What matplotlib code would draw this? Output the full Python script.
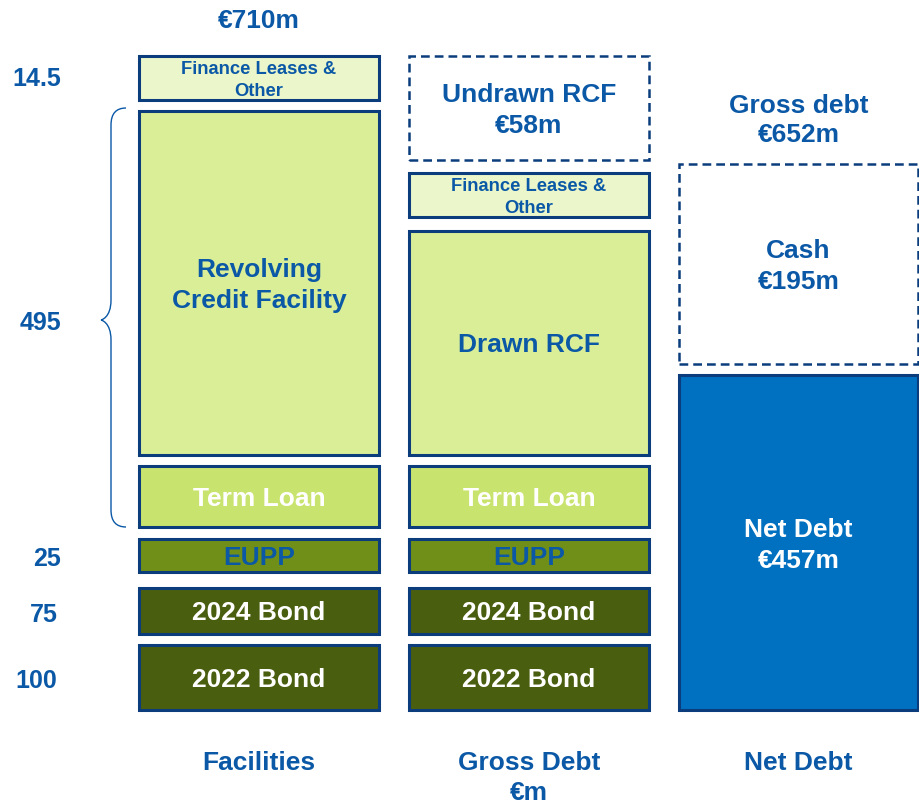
import matplotlib.pyplot as plt
from matplotlib.patches import PathPatch
from matplotlib.path import Path

plt.rcParams['font.family'] = ['Liberation Sans', 'DejaVu Sans']

# data
columns = ['Facilities', 'Gross Debt', 'Net Debt']
facility_labels = ['2022 Bond', '2024 Bond', 'EUPP', 'Term Loan',
                   'Revolving\nCredit Facility', 'Finance Leases &\nOther']
gross_labels = ['2022 Bond', '2024 Bond', 'EUPP', 'Term Loan',
                'Drawn RCF', 'Finance Leases &\nOther', 'Undrawn RCF\n€58m']
net_labels = ['Net Debt\n€457m', 'Cash\n€195m']
side_values = ['100', '75', '25', '495', '14.5']
facilities_total = '€710m'
gross_total = 'Gross debt\n€652m'
unit = '€m'

# layout (pixel rows, measured from top of picture)
H = 808
DY = 2.5  # text nudge down
fac_tops = [645, 588, 539, 466, 111, 56]
fac_bots = [710, 634, 572, 527, 455, 100]
gross_tops = [645, 588, 539, 466, 231, 173, 56]
gross_bots = [710, 634, 572, 527, 455, 217, 160]
net_tops = [375, 164]
net_bots = [710, 364]
col_x = [259, 529, 798.5]
col_w = [240, 240, 239]
side_y = [679, 612, 557, 320, 77]
side_right = [57, 58, 61, 61, 61]

blue = '#0A58A6'
edge = '#0B3D7C'
fill = {'2022 Bond': '#4A5E10', '2024 Bond': '#4A5E10', 'EUPP': '#6F8F19',
        'Term Loan': '#C9E46E', 'rcf': '#DAEE98', 'fl': '#EBF6CB'}
big = 19
ls_big = 1.32
ls_small = 1.38

fig = plt.figure(figsize=(9.19, 8.08), dpi=100)
ax = fig.add_axes([0, 0, 1, 1])
ax.set_xlim(0, 919)
ax.set_ylim(0, H)
ax.axis('off')


def style(label):
    if label in ('2022 Bond', '2024 Bond'):
        return fill[label], 'white', big
    if label == 'EUPP':
        return fill[label], blue, big
    if label == 'Term Loan':
        return fill[label], 'white', big
    if label.startswith('Finance'):
        return fill['fl'], blue, 13.2
    if label.startswith('Undrawn'):
        return 'white', blue, big
    return fill['rcf'], blue, big


def draw_col(i, labels, tops, bots):
    for lab, t, b in zip(labels, tops, bots):
        fc, tc, fs = style(lab)
        dashed = lab.startswith('Undrawn')
        ax.bar(col_x[i], b - t, bottom=H - b, width=col_w[i], color=fc,
               edgecolor=edge, linewidth=1.8 if dashed else 2.2,
               linestyle=(0, (3.5, 2)) if dashed else '-')
        ax.text(col_x[i], H - (t + b) / 2 - DY, lab, ha='center',
                va='center', color=tc, fontsize=fs, fontweight='bold',
                linespacing=ls_small if fs < big else ls_big)


draw_col(0, facility_labels, fac_tops, fac_bots)
draw_col(1, gross_labels, gross_tops, gross_bots)

# net debt column
ax.bar(col_x[2], net_bots[0] - net_tops[0], bottom=H - net_bots[0],
       width=col_w[2], color='#0070C0', edgecolor=edge, linewidth=2.2)
ax.text(col_x[2], H - 543 - DY, net_labels[0], ha='center', va='center',
        color='white', fontsize=big, fontweight='bold', linespacing=ls_big)
ax.bar(col_x[2], net_bots[1] - net_tops[1], bottom=H - net_bots[1],
       width=col_w[2], color='white', edgecolor=edge, linewidth=1.8,
       linestyle=(0, (3.5, 2)))
ax.text(col_x[2], H - (net_tops[1] + net_bots[1]) / 2 - DY, net_labels[1],
        ha='center', va='center', color=blue, fontsize=big,
        fontweight='bold', linespacing=ls_big)

# totals
ax.text(col_x[0], H - 18 - DY, facilities_total, ha='center', va='center',
        color=blue, fontsize=big, fontweight='bold')
ax.text(col_x[2], H - 118 - DY, gross_total, ha='center', va='center',
        color=blue, fontsize=big, fontweight='bold', linespacing=1.28)

# side values
for v, y, xr in zip(side_values, side_y, side_right):
    ax.text(xr, H - y - DY, v, ha='right', va='center', color=blue,
            fontsize=18, fontweight='bold')

# brace
verts = [(126, H - 108), (111, H - 108), (111, H - 125),
         (111, H - 300),
         (111, H - 318), (101, H - 320), (101, H - 320),
         (101, H - 320), (111, H - 322), (111, H - 340),
         (111, H - 510),
         (111, H - 527), (126, H - 527)]
codes = [Path.MOVETO, Path.CURVE3, Path.CURVE3,
         Path.LINETO,
         Path.CURVE4, Path.CURVE4, Path.CURVE4,
         Path.CURVE4, Path.CURVE4, Path.CURVE4,
         Path.LINETO,
         Path.CURVE3, Path.CURVE3]
ax.add_patch(PathPatch(Path(verts, codes), fill=False, edgecolor=blue,
                       linewidth=1.0))

# column titles
for x, c in zip(col_x, columns):
    ax.text(x, H - 761 - DY, c, ha='center', va='center', color=blue,
            fontsize=big, fontweight='bold')
ax.text(col_x[1], H - 793, unit, ha='center', va='center', color=blue,
        fontsize=big, fontweight='bold')

fig.savefig('out.png', dpi=100)
